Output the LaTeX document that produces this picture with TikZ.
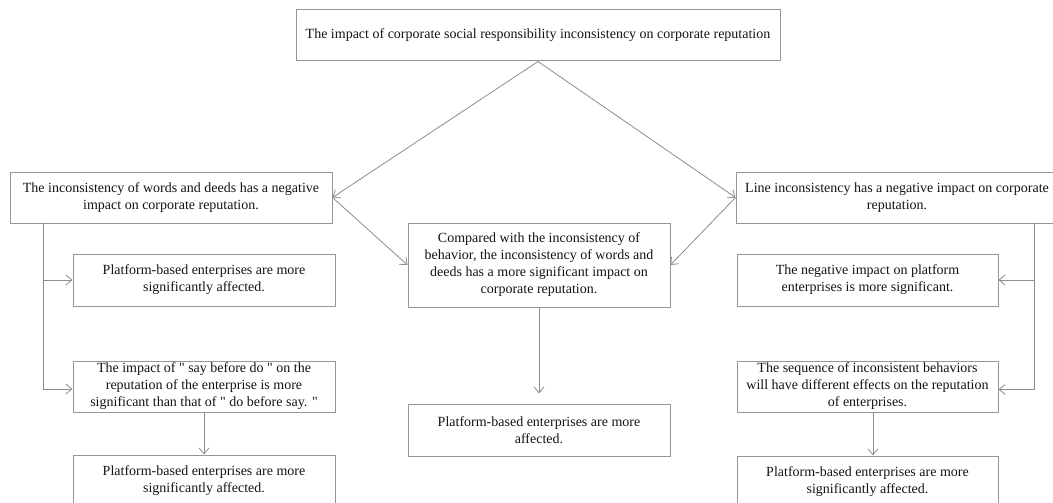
\documentclass[tikz,border=0pt]{standalone}
\usepackage{fontspec}
\setmainfont{Liberation Serif}
\usetikzlibrary{arrows.meta}
\newcommand\dq{\XeTeXglyph\XeTeXcharglyph"22\relax}
\definecolor{boxgray}{RGB}{150,150,150}
\definecolor{linegray}{RGB}{140,140,140}
\definecolor{txt}{RGB}{20,20,20}
\begin{document}
\begin{tikzpicture}[x=1pt,y=-1pt,
  box/.style={draw=boxgray, line width=1pt, fill=white, align=center, inner sep=0pt, text=txt, font=\fontsize{14}{17}\selectfont},
  wbox/.style={box, minimum width=262pt, minimum height=52pt},
  arr/.style={draw=linegray, line width=0.8pt, -{Straight Barb[length=6pt,width=10pt]}}]
\useasboundingbox (0,0) rectangle (1053,503);
\clip (0,0) rectangle (1053,503);
\node[box, minimum width=484pt, minimum height=51pt] (T) at (538,35.5) {The impact of corporate social responsibility inconsistency on corporate reputation};
\node[box, minimum width=322pt, minimum height=51pt] (L1) at (171,197.5) {The inconsistency of words and deeds has a negative\\impact on corporate reputation.};
\node[wbox] (L2) at (204,280) {Platform-based enterprises are more\\significantly affected.};
\node[wbox, minimum height=51pt] (L3) at (204,386.5) {The impact of \dq{} say before do \dq{} on the\\reputation of the enterprise is more\\significant than that of \dq{} do before say. \dq};
\node[wbox] (L4) at (204,481) {Platform-based enterprises are more\\significantly affected.};
\node[wbox, minimum height=84pt] (C1) at (539,265) {Compared with the inconsistency of\\behavior, the inconsistency of words and\\deeds has a more significant impact on\\corporate reputation.};
\node[wbox] (C2) at (539,430) {Platform-based enterprises are more\\affected.};
\node[box, minimum width=322pt, minimum height=51pt] (R1) at (897,197.5) {Line inconsistency has a negative impact on corporate\\reputation.};
\node[wbox, minimum width=261pt] (R2) at (867.5,280) {The negative impact on platform\\enterprises is more significant.};
\node[wbox, minimum width=261pt, minimum height=51pt] (R3) at (867.5,386.5) {The sequence of inconsistent behaviors\\will have different effects on the reputation\\of enterprises.};
\node[wbox, minimum width=261pt] (R4) at (867.5,482) {Platform-based enterprises are more\\significantly affected.};
\draw[arr] (T.south) -- (L1.east);
\draw[arr] (T.south) -- (R1.west);
\draw[arr] (L1.east) -- (C1.west);
\draw[arr] (R1.west) -- (C1.east);
\draw[arr, shorten >=10pt] (C1.south) -- (C2.north);
\coordinate (lb) at (43,223);
\draw[arr] (lb) |- (L2.west);
\draw[arr] (lb) |- ([yshift=-2.5pt]L3.west);
\draw[arr] (L3.south) -- (L4.north);
\coordinate (rb) at (1034,223);
\draw[arr] (rb) |- (R2.east);
\draw[arr] (rb) |- ([yshift=-3pt]R3.east);
\draw[arr] ([xshift=5.5pt]R3.south) -- ([xshift=5.5pt]R4.north);
\end{tikzpicture}
\end{document}
